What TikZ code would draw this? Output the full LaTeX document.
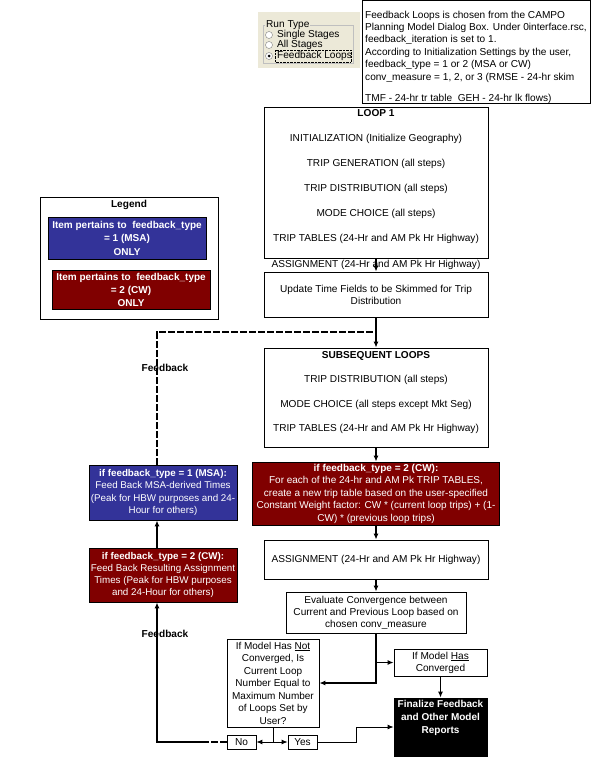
\documentclass[tikz,border=0pt]{standalone}
\usepackage{fontspec}
\setmainfont{Liberation Sans}
\usepackage{xcolor}
\usepackage{tikz}
\usetikzlibrary{arrows.meta}
\definecolor{msablue}{RGB}{51,51,153}
\definecolor{cwred}{RGB}{128,0,0}
\definecolor{panelbg}{RGB}{236,233,216}
\newcommand{\boxfont}{\fontsize{10.1}{12}\selectfont}

\begin{document}
\begin{tikzpicture} [x=1pt, y=-1pt, >={Latex[length=6pt,width=5pt]},
		box/.style={draw, line width=0.8pt, fill=white, align=center, inner sep=0pt, font=\boxfont},
		msabox/.style={box, fill=msablue, text=white},
		cwbox/.style={box, fill=cwred, text=white},
		txt/.style={align=center, inner sep=0pt, font=\boxfont},
		flow/.style={line width=1.5pt, ->},
		thinflow/.style={line width=0.9pt, ->},
		fbline/.style={line width=1.5pt, dash pattern=on 7pt off 2pt}]
			\useasboundingbox (0,0) rectangle (598,771);
			% 运行类型面板
			\fill[panelbg] (258,12) rectangle (360,68);
			\draw[gray!50] (263,25) rectangle (353,63);
			\node[fill=panelbg, inner sep=1pt, anchor=west, font=\boxfont] (runtype) at (265,25) {Run Type};
			\draw[gray, fill=white] (269,35) circle (3.5pt);
			\draw[gray, fill=white] (269,45) circle (3.5pt);
			\draw[gray, fill=white] (269,56) circle (3.5pt);
			\fill (269,56) circle (1.5pt);
			\begin{scope}
				\clip (263,25) rectangle (352,63);
				\node[anchor=west, inner sep=0pt, font=\boxfont] (single) at (277,35) {Single Stages};
				\node[anchor=west, inner sep=0pt, font=\boxfont] (allst) at (277,45) {All Stages};
				\node[anchor=west, inner sep=0pt, font=\boxfont] (fbloops) at (277,56) {Feedback Loops};
				\draw[densely dotted] (275,50) rectangle (351,62);
			\end{scope}
			% 说明框
			\node[draw, line width=0.8pt, fill=white, minimum width=228pt, minimum height=103pt, anchor=north west] (notebox) at (362,0) {};
			\begin{scope}
				\clip (362,0) rectangle (589,103);
				\node[anchor=north west, align=left, inner sep=0pt, font=\fontsize{10.1}{12.4}\selectfont] (note) at (365,10.5) {Feedback Loops is chosen from the CAMPO\\Planning Model Dialog Box. Under 0interface.rsc,\\feedback\_iteration is set to 1.\\According to Initialization Settings by the user,\\feedback\_type = 1 or 2 (MSA or CW)\\conv\_measure = 1, 2, or 3 (RMSE - 24-hr skim\\[8.6pt] TMF - 24-hr tr table\ \ GEH - 24-hr lk flows)};
			\end{scope}
			% 第一轮
			\node[box, minimum width=224pt, minimum height=151pt] (loop1) at (376,182.5) {};
			\node[txt] (loop1txt) at (376,176.5) {\textbf{LOOP 1}\\[13pt]INITIALIZATION (Initialize Geography)\\[13pt]TRIP GENERATION (all steps)\\[13pt]TRIP DISTRIBUTION (all steps)\\[13pt]MODE CHOICE (all steps)\\[13pt]TRIP TABLES (24-Hr and AM Pk Hr Highway)};
			\node[txt] (assigntxt) at (376,265) {ASSIGNMENT (24-Hr and AM Pk Hr Highway)};
			\node[box, minimum width=224pt, minimum height=45pt] (update) at (376,294.5) {Update Time Fields to be Skimmed for Trip\\Distribution};
			% 后续轮次
			\node[box, minimum width=224pt, minimum height=99pt] (subseq) at (376,397.5) {};
			\node[txt] (subseqtxt) at (376,392.5) {\textbf{SUBSEQUENT LOOPS}\\[12.5pt]TRIP DISTRIBUTION (all steps)\\[12.5pt]MODE CHOICE (all steps except Mkt Seg)\\[12.5pt]TRIP TABLES (24-Hr and AM Pk Hr Highway)};
			\node[cwbox, minimum width=247pt, minimum height=63pt, font=\fontsize{10}{12.5}\selectfont] (cwtrip) at (376,493.5) {\textbf{if feedback\_type = 2 (CW):}\\For each of the 24-hr and AM Pk TRIP TABLES,\\create a new trip table based on the user-specified\\Constant Weight factor: CW * (current loop trips) + (1-\\CW) * (previous loop trips)};
			\node[box, minimum width=224pt, minimum height=39pt] (assign) at (376,559.5) {ASSIGNMENT (24-Hr and AM Pk Hr Highway)};
			\node[box, minimum width=180pt, minimum height=41pt] (eval) at (376,612.5) {Evaluate Convergence between\\Current and Previous Loop based on\\chosen conv\_measure};
			% 收敛判断
			\node[box, minimum width=92pt, minimum height=88pt, font=\fontsize{10}{12.5}\selectfont] (notconv) at (273,683) {If Model Has \underline{Not}\\Converged, Is\\Current Loop\\Number Equal to\\Maximum Number\\of Loops Set by\\User?};
			\node[box, minimum width=93pt, minimum height=27pt] (hasconv) at (440.5,662.5) {If Model \underline{Has}\\Converged};
			\node[box, fill=black, minimum width=93pt, minimum height=58pt] (finalize) at (440.5,727) {};
			\node[txt, text=white, font=\bfseries\fontsize{10}{12.8}\selectfont] (finaltxt) at (440.5,718) {Finalize Feedback\\and Other Model\\Reports};
			\node[box, minimum width=29pt, minimum height=14pt] (no) at (241.5,742) {No};
			\node[box, minimum width=29pt, minimum height=14pt] (yes) at (302.5,742) {Yes};
			% 反馈框
			\node[msabox, minimum width=148pt, minimum height=55pt, font=\fontsize{9.8}{12.3}\selectfont] (msa) at (163,492.5) {\textbf{if feedback\_type = 1 (MSA):}\\Feed Back MSA-derived Times\\(Peak for HBW purposes and 24-\\Hour for others)};
			\node[cwbox, minimum width=148pt, minimum height=54pt, font=\fontsize{9.8}{12.3}\selectfont] (cwfb) at (163,575) {\textbf{if feedback\_type = 2 (CW):}\\Feed Back Resulting Assignment\\Times (Peak for HBW purposes\\and 24-Hour for others)};
			% 图例
			\node[box, minimum width=178pt, minimum height=122pt] (legend) at (129,258) {};
			\node[txt, font=\bfseries\boxfont] (legtitle) at (129,205) {Legend};
			\node[msabox, minimum width=158pt, minimum height=42pt, font=\bfseries\fontsize{10}{13.5}\selectfont] (legmsa) at (127,238) {Item pertains to\ \ feedback\_type\\= 1 (MSA)\\ONLY};
			\node[cwbox, minimum width=158pt, minimum height=39pt, font=\bfseries\fontsize{10}{13}\selectfont] (legcw) at (131,289.5) {Item pertains to\ \ feedback\_type\\= 2 (CW)\\ONLY};
			% 连线
			\coordinate (evalturn) at (eval.south |- notconv.east);
			\coordinate (splitpt) at (notconv.south |- no.east);
			\coordinate (yesturn) at (356,742);
			\coordinate (fbbot) at (157,742);
			\coordinate (fbdash) at (205,742);
			\coordinate (fbtop) at (157,332);
			\draw[flow] (loop1.south) -- (update.north);
			\draw[flow] (update.south) -- (subseq.north);
			\draw[flow] (subseq.south) -- (cwtrip.north);
			\draw[flow] (cwtrip.south) -- (assign.north);
			\draw[flow] (assign.south) -- (eval.north);
			\draw[flow] (eval.south) -- (evalturn) -- (notconv.east);
			\draw[flow] (eval.south |- hasconv.west) -- (hasconv.west);
			\draw[flow] (hasconv.south) -- (finalize.north);
			\draw[thinflow] (notconv.south) -- (splitpt) -- (no.east);
			\draw[thinflow] (splitpt) -- (yes.west);
			\draw[thinflow] (yes.east) -- (yesturn) -- (yesturn |- finalize.west) -- (finalize.west);
			% 反馈回路
			\draw[fbline] (no.west) -- (fbdash);
			\draw[flow] (fbdash) -- (fbbot) -- (fbbot |- cwfb.south);
			\draw[flow] (fbbot |- cwfb.north) -- (fbbot |- msa.south);
			\draw[fbline] (fbbot |- msa.north) -- (fbtop) -- (fbtop -| update.south);
			\node[inner sep=0pt, font=\bfseries\boxfont] (fblabela) at (165,368) {Feedback};
			\node[inner sep=0pt, font=\bfseries\boxfont] (fblabelb) at (165,634) {Feedback};
		\end{tikzpicture}
\end{document}
